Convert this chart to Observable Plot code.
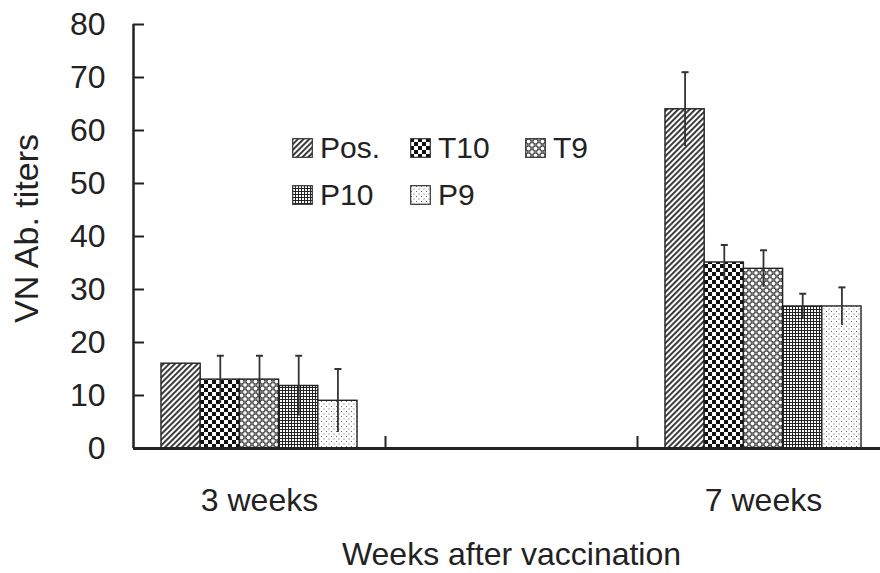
<!DOCTYPE html>
<html><head><meta charset="utf-8">
<script src="https://cdn.jsdelivr.net/npm/d3@7"></script>
<script src="https://cdn.jsdelivr.net/npm/@observablehq/plot@0.6"></script>
<style>
body{margin:0;background:#fff;font-family:"Liberation Sans",Arial,sans-serif;}
#wrap{position:relative;width:880px;height:573px;overflow:hidden;}
.item{position:absolute;display:flex;align-items:center;font-size:30px;color:#222;line-height:34px;}
.item svg{margin-right:7px;}
</style></head><body>
<svg width="0" height="0" style="position:absolute">
<defs>
  <pattern id="pPos" width="4" height="4" patternUnits="userSpaceOnUse" patternTransform="rotate(45)">
    <rect width="4" height="4" fill="#fff"/><rect width="1.9" height="4" fill="#333"/>
  </pattern>
  <pattern id="pT10" width="8" height="8" patternUnits="userSpaceOnUse">
    <rect width="8" height="8" fill="#fff"/><rect width="4" height="4" fill="#111"/><rect x="4" y="4" width="4" height="4" fill="#111"/>
  </pattern>
  <pattern id="pT9" width="7" height="7" patternUnits="userSpaceOnUse">
    <rect width="7" height="7" fill="#8a8a8a"/>
    <circle cx="3.5" cy="3.5" r="2.3" fill="#fff" stroke="#444" stroke-width="0.9"/>
    <circle cx="0" cy="0" r="2.3" fill="#fff" stroke="#444" stroke-width="0.9"/>
    <circle cx="7" cy="0" r="2.3" fill="#fff" stroke="#444" stroke-width="0.9"/>
    <circle cx="0" cy="7" r="2.3" fill="#fff" stroke="#444" stroke-width="0.9"/>
    <circle cx="7" cy="7" r="2.3" fill="#fff" stroke="#444" stroke-width="0.9"/>
  </pattern>
  <pattern id="pP10" width="3" height="3" patternUnits="userSpaceOnUse">
    <rect width="3" height="3" fill="#fff"/><rect width="3" height="1" fill="#222"/><rect width="1" height="3" fill="#222"/>
  </pattern>
  <pattern id="pP9" width="5" height="5" patternUnits="userSpaceOnUse">
    <rect width="5" height="5" fill="#fff"/><rect x="1" y="1" width="1" height="1" fill="#666"/><rect x="3.5" y="3.5" width="1" height="1" fill="#666"/>
  </pattern>
</defs>
</svg>
<div id="wrap"></div>
<script>
// ---- data ----
const categories = ["3 weeks", "", "7 weeks"];
const series = ["Pos.", "T10", "T9", "P10", "P9"];
const values3 = [16, 13, 13, 11.8, 9];
const errors3 = [0, 4.5, 4.5, 5.7, 6];
const values7 = [64, 35.1, 33.9, 26.8, 26.8];
const errors7 = [7, 3.3, 3.5, 2.4, 3.6];
const yTicks = [0, 10, 20, 30, 40, 50, 60, 70, 80];

// ---- styles ----
const patterns = ["url(#pPos)", "url(#pT10)", "url(#pT9)", "url(#pP10)", "url(#pP9)"];
const barFrac = 0.1556; // bar width as a fraction of a category band
const font = '"Liberation Sans", Arial, sans-serif';

const groups = [
  {week: "3 weeks", values: values3, errors: errors3},
  {week: "7 weeks", values: values7, errors: errors7}
];
const data = groups.flatMap(g => series.map((s, si) => {
  const ci = categories.indexOf(g.week);
  const x1 = ci + 0.5 + (si - series.length / 2) * barFrac;
  return {week: g.week, series: s, si, value: g.values[si], error: g.errors[si], x1, x2: x1 + barFrac, xc: x1 + barFrac / 2};
}));
const withErr = data.filter(d => d.error > 0);

const capSymbol = {draw(ctx) { ctx.moveTo(-3.5, 0); ctx.lineTo(3.5, 0); }};

const plot = Plot.plot({
  width: 880,
  height: 573,
  marginLeft: 133,
  marginRight: -9,
  marginTop: 24,
  marginBottom: 125,
  style: {fontFamily: font, color: "#222", background: "#fff", overflow: "hidden"},
  x: {domain: [0, categories.length], axis: null},
  y: {domain: [0, 80], axis: null},
  marks: [
    ...series.map((s, si) => Plot.rectY(data.filter(d => d.si === si), {
      x1: "x1", x2: "x2", y: "value", fill: patterns[si], stroke: "#222", strokeWidth: 1.4
    })),
    Plot.ruleX(withErr, {x: "xc", y1: d => d.value - d.error, y2: d => d.value + d.error, stroke: "#333", strokeWidth: 1.8}),
    Plot.dot(withErr, {x: "xc", y: d => d.value + d.error, symbol: capSymbol, stroke: "#333", strokeWidth: 2, fill: "none"}),
    Plot.ruleY([0], {stroke: "#222", strokeWidth: 3}),
    Plot.ruleX([0], {stroke: "#222", strokeWidth: 2.5}),
    Plot.axisY(yTicks, {label: null, tickSize: -11, tickPadding: 39, fontSize: 32, stroke: "#222", strokeWidth: 2, fill: "#222"}),
    Plot.axisX([1, 2], {label: null, tickSize: -12, tickFormat: () => "", stroke: "#222", strokeWidth: 2}),
    Plot.axisX(categories.map((c, i) => i + 0.5), {label: null, tickSize: 0, tickPadding: 40, fontSize: 32, fill: "#222", tickFormat: v => categories[Math.floor(v)]}),
    Plot.text(["VN Ab. titers"], {frameAnchor: "left", textAnchor: "middle", dx: -106, dy: -8, rotate: -90, fontSize: 34, fill: "#222"}),
    Plot.text(["Weeks after vaccination"], {frameAnchor: "bottom", dy: 116, fontSize: 32, fill: "#222"})
  ]
});

const wrap = document.getElementById("wrap");
wrap.appendChild(plot);

// legend (HTML overlay inside the plot area)
const legendPos = [[292, 131], [410, 131], [525, 131], [292, 178], [410, 178]];
series.forEach((s, si) => {
  const item = document.createElement("div");
  item.className = "item";
  item.style.left = legendPos[si][0] + "px";
  item.style.top = legendPos[si][1] + "px";
  item.innerHTML = `<svg width="21" height="20"><rect x="0.7" y="0.7" width="19.6" height="18.6" fill="${patterns[si]}" stroke="#333" stroke-width="1.2"/></svg><span>${s}</span>`;
  wrap.appendChild(item);
});
</script>
</body></html>
